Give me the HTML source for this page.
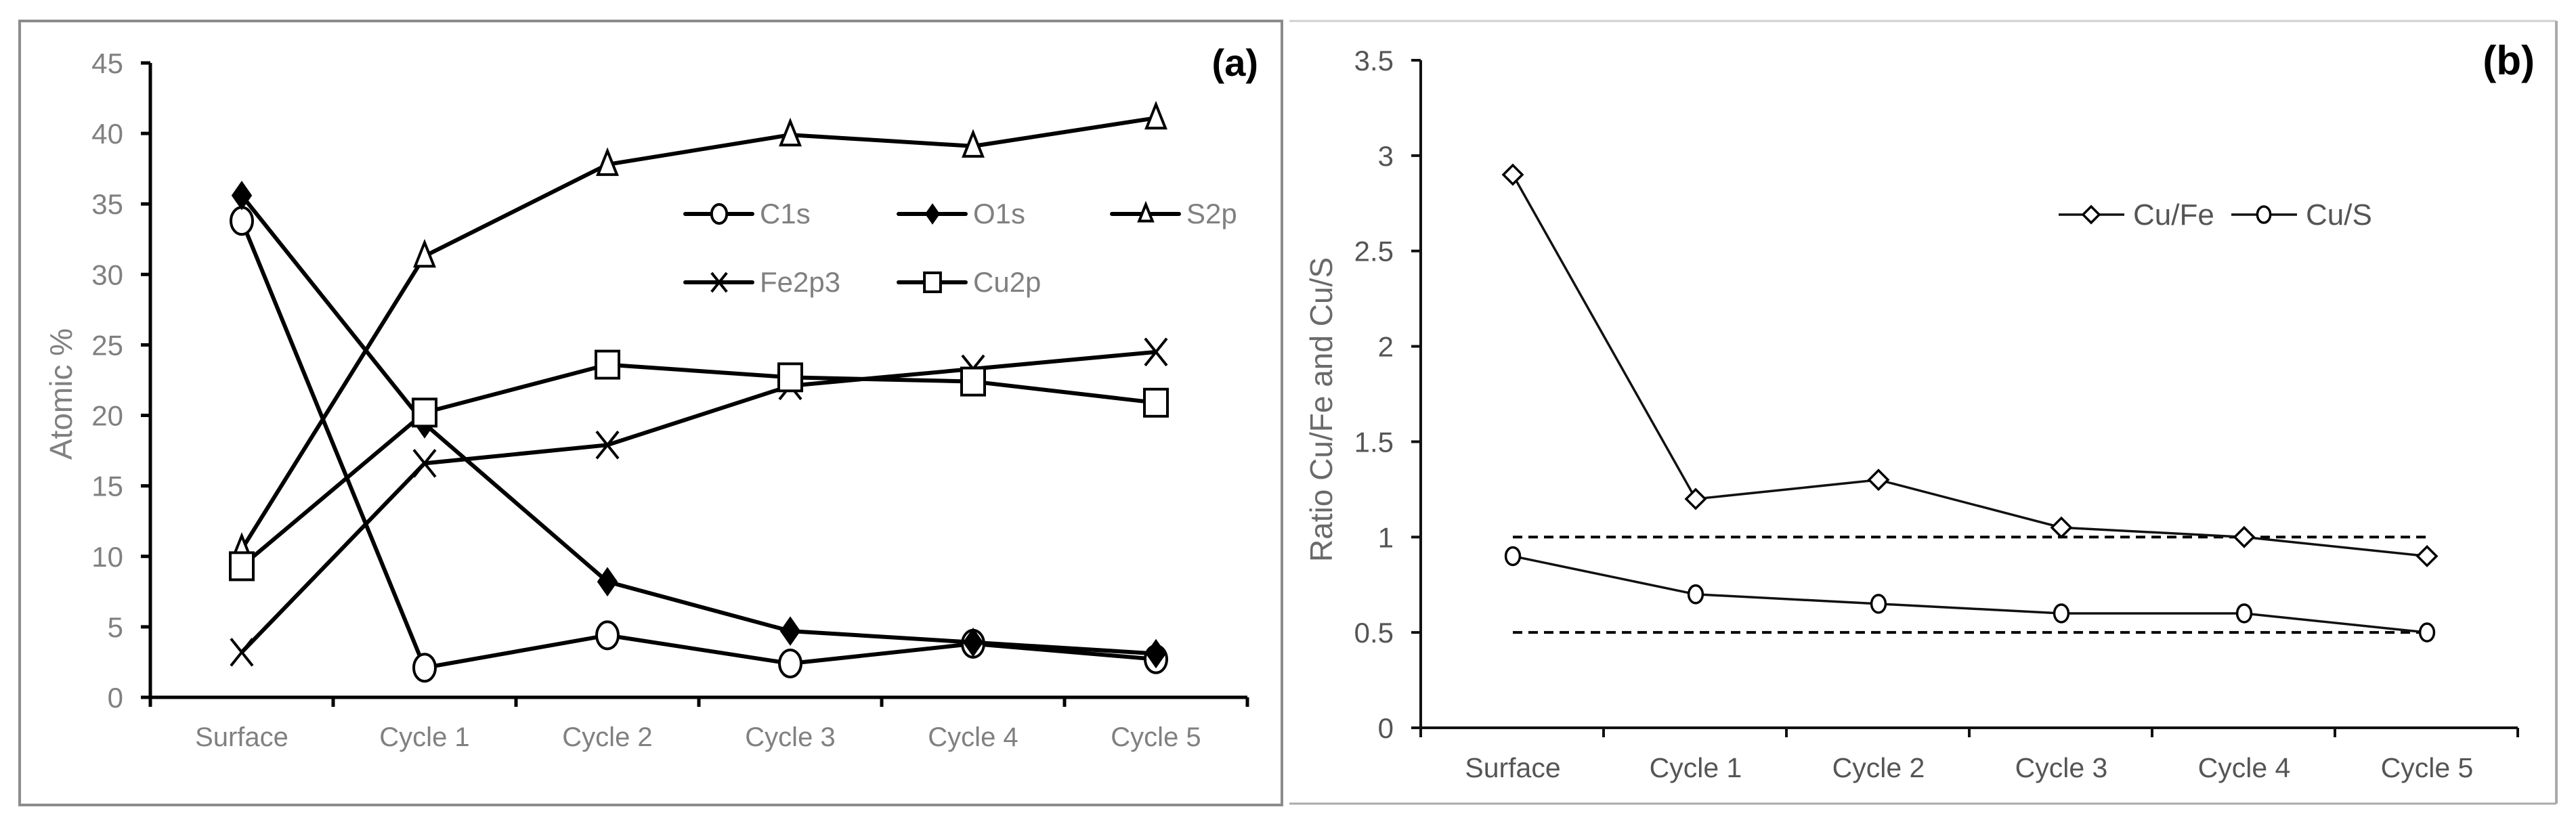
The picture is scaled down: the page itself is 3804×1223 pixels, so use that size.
<!DOCTYPE html>
<html><head><meta charset="utf-8"><style>
html,body{margin:0;padding:0;background:#fff;}
svg{display:block;}
text{font-family:"Liberation Sans",sans-serif;}
</style></head><body>
<svg id="fig" width="3804" height="1223" viewBox="0 0 3804 1223" xmlns="http://www.w3.org/2000/svg">
<rect x="0" y="0" width="3804" height="1223" fill="#fff"/>
<rect x="29" y="31" width="1864" height="1158" fill="none" stroke="#8c8c8c" stroke-width="4"/>
<line x1="1904" y1="31" x2="3775" y2="31" stroke="#d0d0d0" stroke-width="3"/>
<line x1="1904" y1="1187" x2="3775" y2="1187" stroke="#aaa" stroke-width="3"/>
<line x1="3775" y1="31" x2="3775" y2="1187" stroke="#aaa" stroke-width="4"/>
<g id="pa"></g>
<g id="pb"></g>
<text x="1858" y="112" text-anchor="end" font-size="56" font-weight="bold" fill="#000">(a)</text>
<text x="3743" y="110" text-anchor="end" font-size="60" font-weight="bold" fill="#000">(b)</text>
<text transform="translate(106,582) rotate(-90)" text-anchor="middle" font-size="46" fill="#808080">Atomic %</text>
<text transform="translate(1967,605) rotate(-90)" text-anchor="middle" font-size="46" fill="#6a6a6a">Ratio Cu/Fe and Cu/S</text>
</svg>
<script>
const categories = ["Surface","Cycle 1","Cycle 2","Cycle 3","Cycle 4","Cycle 5"];
const c1s = [33.8, 2.1, 4.4, 2.4, 3.8, 2.7];
const o1s = [35.6, 19.4, 8.2, 4.7, 3.9, 3.1];
const s2p = [10.5, 31.3, 37.8, 39.9, 39.1, 41.1];
const fe2p3 = [3.2, 16.6, 17.9, 22.1, 23.3, 24.5];
const cu2p = [9.3, 20.2, 23.6, 22.7, 22.4, 20.9];
const ticksA = [0,5,10,15,20,25,30,35,40,45];
const cuFe = [2.9, 1.2, 1.3, 1.05, 1.0, 0.9];
const cuS = [0.9, 0.7, 0.65, 0.6, 0.6, 0.5];
const refLines = [1.0, 0.5];
const ticksB = [0,0.5,1,1.5,2,2.5,3,3.5];
const ticksBLabels = ["0","0.5","1","1.5","2","2.5","3","3.5"];

const NS="http://www.w3.org/2000/svg";
function mk(parent,tag,attrs){const e=document.createElementNS(NS,tag);for(const k in attrs)e.setAttribute(k,attrs[k]);parent.appendChild(e);return e;}

const A={x0:222,x1:1842,y0:1030,ymax:45,h:937};
const xa=i=>A.x0+135+270*i;
const ya=v=>A.y0-v/A.ymax*A.h;
const pa=document.getElementById('pa');
let e=mk(pa,'line',{x1:A.x0,y1:ya(45),x2:A.x0,y2:A.y0+14,stroke:'#000','stroke-width':5});


e=mk(pa,'line',{x1:A.x0-14,y1:A.y0,x2:A.x1,y2:A.y0,stroke:'#000','stroke-width':5});


ticksA.forEach(t=>{
  const tl=mk(pa,'line',{x1:A.x0-14,y1:ya(t),x2:A.x0,y2:ya(t),stroke:'#000','stroke-width':5});
  
  
  const tx=mk(pa,'text',{x:A.x0-40,y:ya(t)+15,'text-anchor':'end','font-size':42,fill:'#808080'});
  tx.textContent=String(t);
  
  
});
for(let i=1;i<=6;i++){
  const tl=mk(pa,'line',{x1:A.x0+270*i,y1:A.y0,x2:A.x0+270*i,y2:A.y0+14,stroke:'#000','stroke-width':5});
  
  
}
categories.forEach((c,i)=>{
  const tx=mk(pa,'text',{x:xa(i),y:1102,'text-anchor':'middle','font-size':40,fill:'#808080'});
  tx.textContent=c;
  
  
});
function markerA(g,type,x,y,s,sw){
  let m;
  if(type==='circle') m=mk(g,'ellipse',{cx:x,cy:y,rx:s*0.8,ry:s,fill:'#fff',stroke:'#000','stroke-width':sw});
  else if(type==='diamond') m=mk(g,'polygon',{points:`${x},${y-s} ${x+s*0.7},${y} ${x},${y+s} ${x-s*0.7},${y}`,fill:'#000',stroke:'#000','stroke-width':2});
  else if(type==='odiamond') m=mk(g,'polygon',{points:`${x},${y-s} ${x+s},${y} ${x},${y+s} ${x-s},${y}`,fill:'#fff',stroke:'#000','stroke-width':sw});
  else if(type==='triangle') m=mk(g,'polygon',{points:`${x},${y-s} ${x+s*0.7},${y+s*0.75} ${x-s*0.7},${y+s*0.75}`,fill:'#fff',stroke:'#000','stroke-width':sw});
  else if(type==='square') m=mk(g,'rect',{x:x-s*0.85,y:y-s,width:s*1.7,height:s*2,fill:'#fff',stroke:'#000','stroke-width':sw});
  else if(type==='x') m=mk(g,'path',{d:`M${x-s*0.8},${y-s}L${x+s*0.8},${y+s}M${x+s*0.8},${y-s}L${x-s*0.8},${y+s}`,stroke:'#000','stroke-width':sw,fill:'none'});
  return m;
}
const seriesA=[["C1s",c1s,"circle"],["O1s",o1s,"diamond"],["S2p",s2p,"triangle"],["Fe2p3",fe2p3,"x"],["Cu2p",cu2p,"square"]];
seriesA.forEach(([name,vals,mt])=>{
  const g=mk(pa,'g',{});
  
  
  const l=mk(g,'polyline',{points:vals.map((v,i)=>xa(i)+','+ya(v)).join(' '),fill:'none',stroke:'#000','stroke-width':6,'stroke-linejoin':'round'});
  
  
  vals.forEach((v,i)=>{
    const m=markerA(g,mt,xa(i),ya(v),20,4);
    
    
  });
});
const legPos=[[1012,316],[1327,316],[1642,316],[1012,417],[1327,417]];
seriesA.forEach(([name,vals,mt],k)=>{
  const [lx,ly]=legPos[k];
  const g=mk(pa,'g',{});
  
  
  mk(g,'line',{x1:lx,y1:ly,x2:lx+99,y2:ly,stroke:'#000','stroke-width':6,'stroke-linecap':'round'});
  markerA(g,mt,lx+50,ly,14,4);
  const t=mk(g,'text',{x:lx+110,y:ly+14,'font-size':42,fill:'#808080'});
  t.textContent=name;
});

const B={x0:2098,x1:3718,y0:1075,ymax:3.5,h:986};
const xb=i=>B.x0+136+270*i;
const yb=v=>B.y0-v/B.ymax*B.h;
const pb=document.getElementById('pb');
e=mk(pb,'line',{x1:B.x0,y1:yb(3.5),x2:B.x0,y2:B.y0+14,stroke:'#111','stroke-width':4});


e=mk(pb,'line',{x1:B.x0-14,y1:B.y0,x2:B.x1,y2:B.y0,stroke:'#111','stroke-width':4});


ticksB.forEach((t,k)=>{
  const tl=mk(pb,'line',{x1:B.x0-14,y1:yb(t),x2:B.x0,y2:yb(t),stroke:'#111','stroke-width':4});
  
  
  const tx=mk(pb,'text',{x:B.x0-40,y:yb(t)+15,'text-anchor':'end','font-size':42,fill:'#555'});
  tx.textContent=ticksBLabels[k];
  
  
});
for(let i=1;i<=6;i++){
  const tl=mk(pb,'line',{x1:B.x0+270*i,y1:B.y0,x2:B.x0+270*i,y2:B.y0+14,stroke:'#111','stroke-width':4});
  
  
}
categories.forEach((c,i)=>{
  const tx=mk(pb,'text',{x:xb(i),y:1148,'text-anchor':'middle','font-size':41,fill:'#555'});
  tx.textContent=c;
  
  
});
refLines.forEach(r=>{
  const l=mk(pb,'line',{x1:xb(0),y1:yb(r),x2:xb(5),y2:yb(r),stroke:'#000','stroke-width':4,'stroke-dasharray':'14,9'});
  
  
});
const seriesB=[["Cu/Fe",cuFe,"odiamond"],["Cu/S",cuS,"circle"]];
seriesB.forEach(([name,vals,mt])=>{
  const g=mk(pb,'g',{});
  
  
  const l=mk(g,'polyline',{points:vals.map((v,i)=>xb(i)+','+yb(v)).join(' '),fill:'none',stroke:'#111','stroke-width':3.5});
  
  
  vals.forEach((v,i)=>{
    const m=markerA(g,mt,xb(i),yb(v),mt==='circle'?13:14,3.5);
    
    
  });
});
const legB=[[3040,317],[3295,317]];
seriesB.forEach(([name,vals,mt],k)=>{
  const [lx,ly]=legB[k];
  const g=mk(pb,'g',{});
  
  
  mk(g,'line',{x1:lx,y1:ly,x2:lx+97,y2:ly,stroke:'#111','stroke-width':3.5});
  markerA(g,mt,lx+48,ly,12,3.5);
  const t=mk(g,'text',{x:lx+110,y:ly+15,'font-size':44,fill:'#555'});
  t.textContent=name;
});
</script>
</body></html>
